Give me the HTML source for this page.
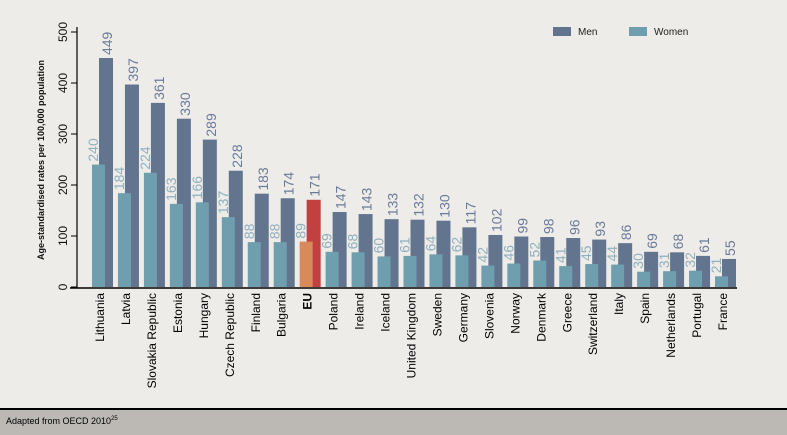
<!DOCTYPE html>
<html><head><style>
body{margin:0;background:#eeece8;}
svg{display:block;font-family:"Liberation Sans",sans-serif;}
</style></head><body>
<svg id="c" width="787" height="435" xmlns="http://www.w3.org/2000/svg">
<rect width="787" height="435" fill="#eeece8"/>
<rect x="0" y="409" width="787" height="26" fill="#bcb9b5"/>
<rect x="0" y="408" width="787" height="2" fill="#000"/>
<text x="6" y="424" font-size="9" fill="#000">Adapted from OECD 2010<tspan font-size="6" dy="-4">25</tspan></text>
<rect x="553" y="27" width="18" height="9" fill="#63748f"/>
<text x="578" y="35" font-size="10" fill="#222">Men</text>
<rect x="629" y="27" width="18" height="9" fill="#6f9fae"/>
<text x="654" y="35" font-size="10" fill="#222">Women</text>
<text transform="translate(44,160) rotate(-90)" text-anchor="middle" font-size="9" font-weight="bold" fill="#111">Age-standardised rates per 100,000 population</text>
<g id="g"></g>
</svg>
<script>
var d=[["Lithuania",449,240],["Latvia",397,184],["Slovakia Republic",361,224],["Estonia",330,163],["Hungary",289,166],["Czech Republic",228,137],["Finland",183,88],["Bulgaria",174,88],["EU",171,89],["Poland",147,69],["Ireland",143,68],["Iceland",133,60],["United Kingdom",132,61],["Sweden",130,64],["Germany",117,62],["Slovenia",102,42],["Norway",99,46],["Denmark",98,52],["Greece",96,41],["Switzerland",93,45],["Italy",86,44],["Spain",69,30],["Netherlands",68,31],["Portugal",61,32],["France",55,21]];
var s="",y0=287,k=0.51,pitch=(715-92)/24;
s+='<line x1="77" y1="27" x2="77" y2="288" stroke="#000" stroke-width="1.2"/>';
s+='<line x1="70" y1="288" x2="737" y2="288" stroke="#000" stroke-width="1.5"/>';
for(var v=0;v<=500;v+=100){var y=y0-v*k;s+='<line x1="71" y1="'+y+'" x2="77" y2="'+y+'" stroke="#000"/>';
s+='<text transform="translate(67,'+y+') rotate(-90)" text-anchor="middle" font-size="12" fill="#111">'+v+'</text>';}
d.forEach(function(r,i){var x=92+i*pitch,eu=r[0]=="EU";
var mc=eu?"#c0413f":"#63748f",wc=eu?"#d98a5b":"#6f9fae";
var hm=r[1]*k,hw=r[2]*k;
s+='<rect x="'+(x+7)+'" y="'+(y0-hm)+'" width="14" height="'+hm+'" fill="'+mc+'"/>';
s+='<rect x="'+x+'" y="'+(y0-hw)+'" width="13" height="'+hw+'" fill="'+wc+'"/>';
s+='<text transform="translate('+(x+20)+','+(y0-hm-3)+') rotate(-90)" font-size="14" fill="#6a7a99">'+r[1]+'</text>';
s+='<text transform="translate('+(x+6)+','+(y0-hw-3)+') rotate(-90)" font-size="14" fill="#8fb0bd">'+r[2]+'</text>';
s+='<text transform="translate('+(x+12)+',293) rotate(-90)" text-anchor="end" font-size="12"'+(eu?' font-weight="bold"':'')+' fill="#000">'+r[0]+'</text>';});
document.getElementById("g").innerHTML=s;
</script>
</body></html>
